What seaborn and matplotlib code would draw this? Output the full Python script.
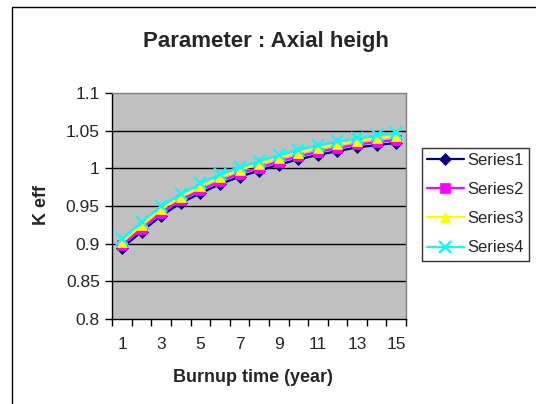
import numpy as np
import pandas as pd
import matplotlib
matplotlib.use("Agg")
import matplotlib.pyplot as plt
import matplotlib.patches as mpatches
import seaborn as sns

# ---- data ----
years = list(range(1, 16))
series1 = [0.894, 0.916, 0.937, 0.954, 0.967, 0.979, 0.989, 0.997, 1.005, 1.012, 1.018, 1.023, 1.028, 1.031, 1.034]
series2 = [0.898, 0.920, 0.941, 0.958, 0.971, 0.983, 0.993, 1.001, 1.009, 1.016, 1.022, 1.027, 1.032, 1.035, 1.038]
series3 = [0.902, 0.925, 0.946, 0.962, 0.976, 0.988, 0.998, 1.006, 1.014, 1.021, 1.027, 1.032, 1.036, 1.040, 1.043]
series4 = [0.906, 0.929, 0.950, 0.966, 0.980, 0.992, 1.002, 1.010, 1.018, 1.025, 1.031, 1.036, 1.040, 1.044, 1.047]
series_names = ["Series1", "Series2", "Series3", "Series4"]
x_tick_labels = ["1", "3", "5", "7", "9", "11", "13", "15"]
y_ticks = [0.8, 0.85, 0.9, 0.95, 1.0, 1.05, 1.1]
y_tick_labels = ["0.8", "0.85", "0.9", "0.95", "1", "1.05", "1.1"]

title = "Parameter : Axial heigh"
xlabel = "Burnup time (year)"
ylabel = "K eff"

df = pd.DataFrame({
    "year": years * 4,
    "keff": series1 + series2 + series3 + series4,
    "series": sum([[n] * len(years) for n in series_names], []),
})

sns.set_theme(style="white")
plt.rcParams["font.family"] = ["Liberation Sans", "DejaVu Sans"]

fig = plt.figure(figsize=(5.36, 4.04), dpi=100)
fig.patch.set_facecolor("white")

# outer chart border (Excel chart area)
border = mpatches.Rectangle((12 / 536, -0.05), 1.1, 1 - 7 / 404 + 0.05,
                            transform=fig.transFigure, fill=False,
                            edgecolor="black", lw=1.0, clip_on=False)
fig.patches.append(border)

ax = fig.add_axes([112.3 / 536, 1 - 318.7 / 404, (406 - 112.3) / 536, (318.7 - 93.3) / 404])
ax.set_facecolor("#C0C0C0")

palette = {"Series1": "#000080", "Series2": "#FF00FF", "Series3": "#FFFF00", "Series4": "#00FFFF"}
markers = {"Series1": "D", "Series2": "s", "Series3": "^", "Series4": "x"}
msizes = {"Series1": 6.5, "Series2": 6.5, "Series3": 7.5, "Series4": 8}

for name in series_names:
    sub = df[df["series"] == name]
    sns.lineplot(data=sub, x="year", y="keff", ax=ax, color=palette[name],
                 marker=markers[name], markersize=msizes[name],
                 markeredgecolor=palette[name], markeredgewidth=1.6 if name == "Series4" else 0.5,
                 lw=1.6, label=name, legend=False, zorder=3)

ax.set_xlim(0.5, 15.5)
ax.set_ylim(0.8, 1.1)

# grid lines
for yv in y_ticks[1:-1]:
    ax.axhline(yv, color="black", lw=1.0, zorder=1)

# x ticks: marks at category boundaries, labels at odd categories
ax.set_xticks(np.arange(0.5, 16, 1.0))
ax.set_xticklabels([])
ax.tick_params(axis="x", which="major", direction="out", length=5, width=1, color="black", bottom=True)
ax.set_xticks([int(v) for v in x_tick_labels], minor=True)
ax.set_xticklabels(x_tick_labels, minor=True, fontsize=12.5)
ax.tick_params(axis="x", which="minor", length=0, pad=13)

ax.set_yticks(y_ticks)
ax.set_yticklabels(y_tick_labels, fontsize=12.5)
ax.tick_params(axis="y", direction="out", length=5, width=1, color="black", left=True, pad=4)

ax.set_xlabel("")
ax.set_ylabel("")
for s in ["left", "bottom"]:
    ax.spines[s].set_color("black")
    ax.spines[s].set_linewidth(1.0)
for s in ["top", "right"]:
    ax.spines[s].set_color("#808080")
    ax.spines[s].set_linewidth(1.0)

fig.text(266 / 536, 1 - 41 / 404, title, ha="center", va="center", fontsize=16, fontweight="bold")
fig.text(253 / 536, 1 - 378 / 404, xlabel, ha="center", va="center", fontsize=13, fontweight="bold")
fig.text(41 / 536, 1 - 205 / 404, ylabel, ha="center", va="center", rotation=90, fontsize=13, fontweight="bold")

handles, labels = ax.get_legend_handles_labels()
leg = fig.legend(handles, labels, loc="upper left",
                 bbox_to_anchor=(422 / 536, 1 - 148 / 404),
                 frameon=True, fancybox=False, fontsize=12, handlelength=2.2,
                 borderpad=0.3, labelspacing=0.85, handletextpad=0.2, borderaxespad=0)
leg.get_frame().set_edgecolor("black")
leg.get_frame().set_linewidth(1.0)

fig.savefig("out.png", dpi=100)
